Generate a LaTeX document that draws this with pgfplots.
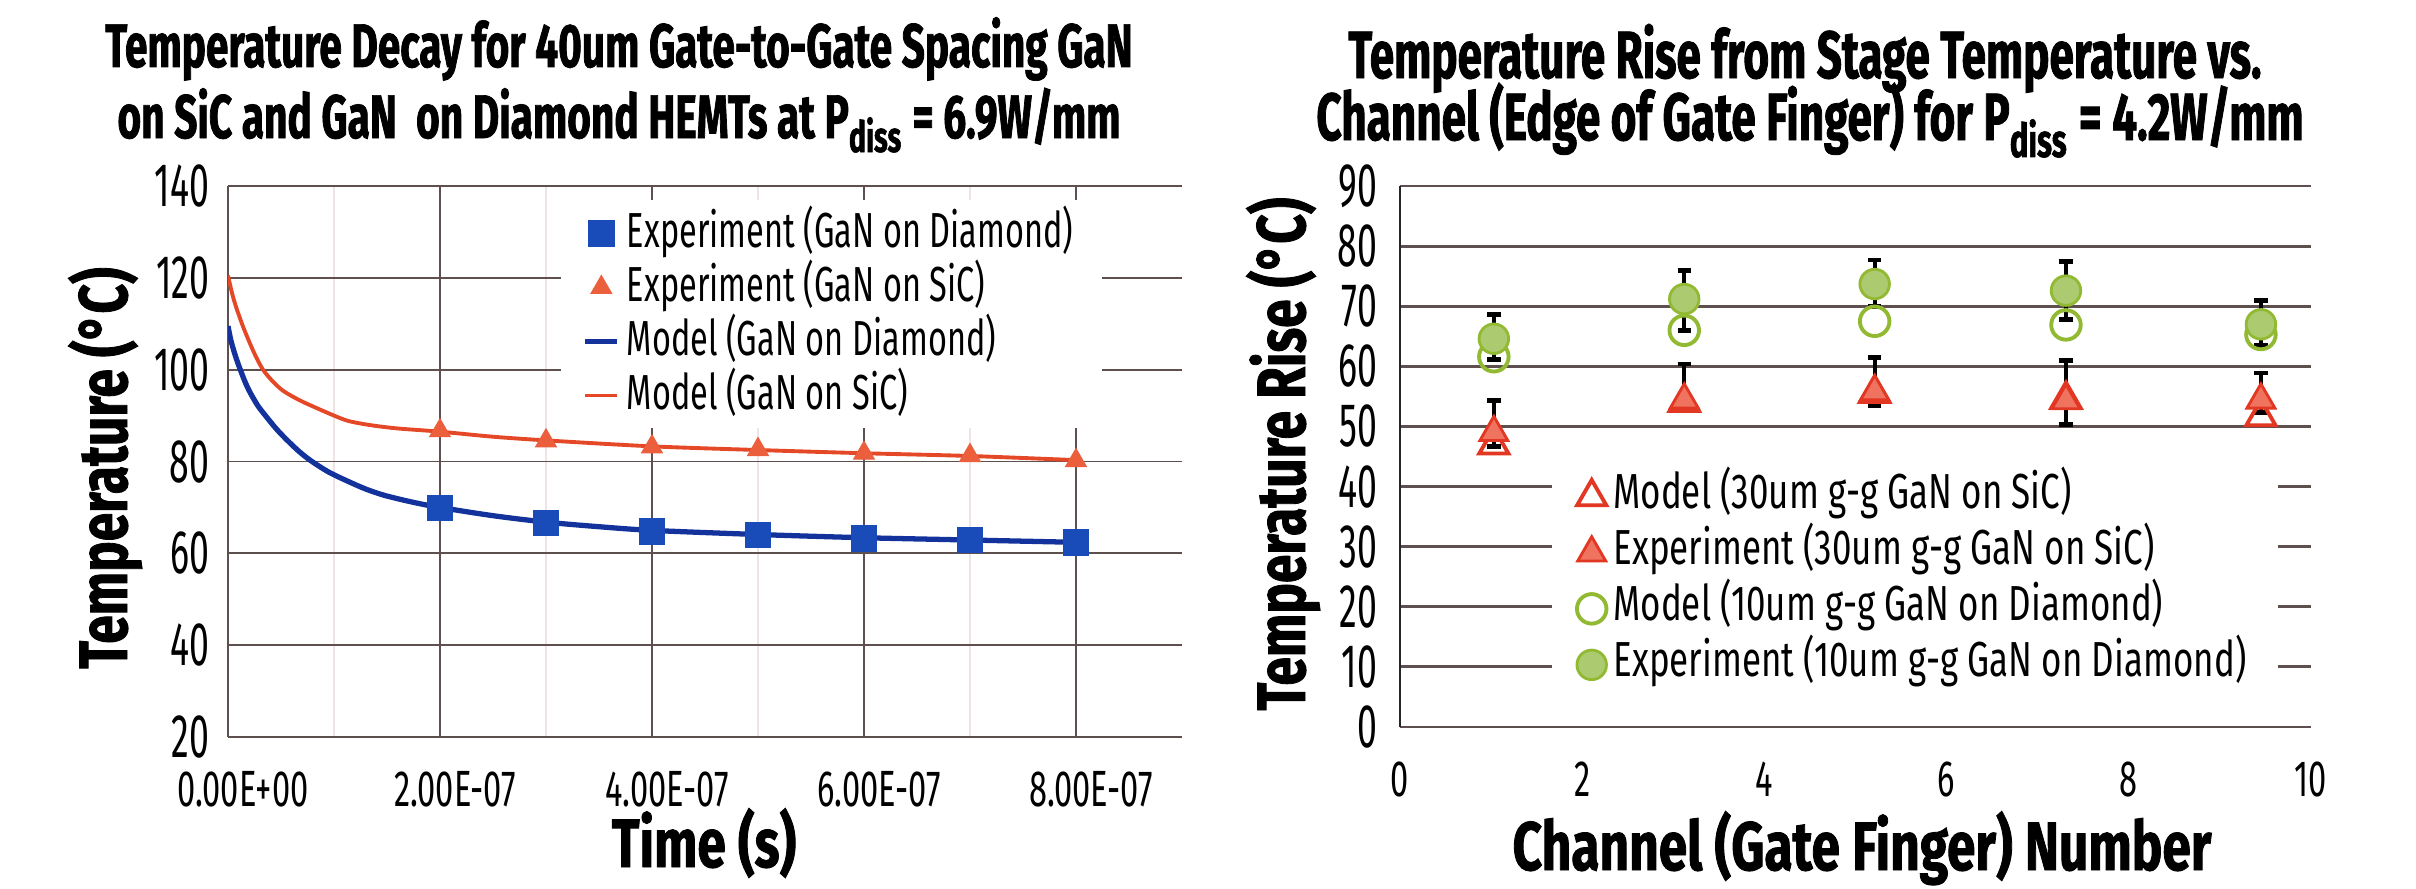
\documentclass[border=0pt]{standalone}
\usepackage{fontspec}
\setmainfont{Fira Sans}[FakeStretch=0.68]
\newfontfamily\ytickf{Fira Sans}[FakeStretch=0.58]
\newfontfamily\xtickf{Fira Sans}[FakeStretch=0.64]
\newfontfamily\legLf{Fira Sans}[FakeStretch=0.66]
\newfontfamily\legRf{Fira Sans}[FakeStretch=0.71]
\newfontfamily\labf{Fira Sans}[FakeStretch=0.75, BoldFeatures={FakeBold=1.2}]
\newfontfamily\titf{Fira Sans}[FakeStretch=0.66, BoldFeatures={FakeBold=1.2}]
\usepackage{pgfplots}
\pgfplotsset{compat=1.18}
\definecolor{gridc}{RGB}{95,80,80}
\definecolor{gridlight}{RGB}{238,228,228}
\definecolor{bluesq}{RGB}{25,75,185}
\definecolor{blueline}{RGB}{20,50,155}
\definecolor{redtri}{RGB}{235,95,60}
\definecolor{redline}{RGB}{228,72,38}
\definecolor{sicred}{RGB}{225,55,35}
\definecolor{sicfill}{RGB}{240,115,95}
\definecolor{dgreen}{RGB}{145,185,50}
\definecolor{lgreen}{RGB}{172,202,112}
\newcommand{\ytickfont}{\ytickf\fontsize{17.5}{19}\selectfont}
\newcommand{\xtickfont}{\xtickf\fontsize{14.5}{16}\selectfont}
\newcommand{\legLfont}{\legLf\fontsize{14}{16}\selectfont}
\newcommand{\legRfont}{\legRf\fontsize{14}{16}\selectfont}
\newcommand{\labfont}{\labf\bfseries\fontsize{19.5}{22}\selectfont}
\newcommand{\titLfont}{\titf\bfseries\fontsize{17.5}{20}\selectfont}
\newcommand{\titRfont}{\titf\bfseries\fontsize{19}{22}\selectfont}
\begin{document}
\begin{tikzpicture}
\useasboundingbox (0,0) rectangle (24.16cm,8.88cm);
% ---------- titles ----------
\node[anchor=base, font=\titLfont, inner sep=0pt] at (6.19cm,8.21cm) {Temperature Decay for 40um Gate-to-Gate Spacing GaN};
\node[anchor=base, font=\titLfont, inner sep=0pt] at (6.19cm,7.50cm) {on SiC and GaN\ \ on Diamond HEMTs at P\textsubscript{diss} = 6.9W/mm};
\node[anchor=base, font=\titRfont, inner sep=0pt] at (18.05cm,8.10cm) {Temperature Rise from Stage Temperature vs.};
\node[anchor=base, font=\titRfont, inner sep=0pt] at (18.10cm,7.48cm) {Channel (Edge of Gate Finger) for P\textsubscript{diss} = 4.2W/mm};
% ---------- axis labels ----------
\node[anchor=base, rotate=90, font=\labfont, inner sep=0pt] at (1.27cm,4.20cm) {Temperature (°C)};
\node[anchor=base, font=\labfont, inner sep=0pt] at (7.04cm,0.21cm) {Time (s)};
\node[anchor=base, rotate=90, font=\labfont, inner sep=0pt] at (13.05cm,4.34cm) {Temperature Rise (°C)};
\node[anchor=base, font=\labfont, inner sep=0pt] at (18.62cm,0.18cm) {Channel (Gate Finger) Number};

% ---------- left chart ----------
\begin{axis}[
  at={(2.28cm,1.51cm)}, anchor=south west,
  scale only axis, width=9.54cm, height=5.51cm,
  xmin=0, xmax=9e-7, ymin=20, ymax=140,
  xtick={0,2e-7,4e-7,6e-7,8e-7},
  minor xtick={1e-7,3e-7,5e-7,7e-7},
  xticklabels={0.00E+00,2.00E-07,4.00E-07,6.00E-07,8.00E-07},
  scaled x ticks=false,
  ytick={20,40,60,80,100,120,140},
  /pgf/number format/assume math mode=true,
  tick style={draw=none},
  xmajorgrids, xminorgrids, ymajorgrids,
  major grid style={draw=gridc, line width=0.55pt},
  minor grid style={draw=gridlight, line width=0.5pt},
  axis line style={draw=none},
  yticklabel style={font=\ytickfont, inner sep=0pt, xshift=-1.8mm},
  xticklabel style={font=\xtickfont, inner sep=0pt, yshift=-3.4mm, xshift=1.5mm},
  legend style={draw=none, fill=white, at={(0.348,0.975)}, anchor=north west,
    font=\legLfont, inner xsep=2.2mm, inner ysep=0.6mm, row sep=0pt,
    nodes={inner ysep=0pt, inner xsep=2pt, text height=4.1mm, text depth=1.3mm}},
  legend cell align=left,
  legend image code/.code={\draw[mark repeat=2,mark phase=2,#1] plot coordinates {(0cm,0cm) (0.16cm,0cm) (0.32cm,0cm)};},
]
% model lines first (under the markers)
\addplot[blueline, line width=1.5pt, smooth, forget plot] coordinates {
 (0,109.5) (0.25e-8,106.6) (0.5e-8,104.5) (0.8e-8,102.3) (1.16e-8,100.0) (1.6e-8,97.4) (2e-8,95.4)
 (2.8e-8,92.2) (3.6e-8,89.8) (4.6e-8,87.0) (5.6e-8,84.6) (6.7e-8,82.2) (7.8e-8,80.2)
 (9.5e-8,77.7) (1.14e-7,75.6) (1.3e-7,74.0) (1.48e-7,72.6) (1.75e-7,71.1) (2e-7,70.0)
 (2.5e-7,68.2) (3e-7,66.8) (3.5e-7,65.8) (4e-7,65.0) (5e-7,64.1) (6e-7,63.4) (7e-7,62.9) (8e-7,62.4)};
\addplot[redline, line width=1.1pt, smooth, forget plot] coordinates {
 (0,120.5) (0.4e-8,116.5) (0.8e-8,113.4) (1.4e-8,109.5) (2e-8,106.1) (2.6e-8,103.0) (3.3e-8,100.0)
 (4.2e-8,97.5) (5.2e-8,95.4) (6.7e-8,93.4) (8.3e-8,91.7) (1e-7,90.0) (1.14e-7,88.8)
 (1.35e-7,87.9) (1.6e-7,87.2) (2e-7,86.5) (2.5e-7,85.4) (3e-7,84.6) (4e-7,83.3)
 (5e-7,82.5) (6e-7,81.8) (7e-7,81.2) (8e-7,80.3)};
\addplot[only marks, mark=square*, mark size=3.6pt, color=bluesq] coordinates {
 (2e-7,69.9) (3e-7,66.6) (4e-7,64.8) (5e-7,64.0) (6e-7,63.3) (7e-7,62.9) (8e-7,62.4)};
\addlegendentry{Experiment (GaN on Diamond)}
\addplot[only marks, mark=triangle*, mark size=3.3pt, color=redtri] coordinates {
 (2e-7,86.7) (3e-7,84.5) (4e-7,83.2) (5e-7,82.6) (6e-7,81.8) (7e-7,81.3) (8e-7,80.2)};
\addlegendentry{Experiment (GaN on SiC)}
\addlegendimage{blueline, line width=1.5pt}
\addlegendentry{Model (GaN on Diamond)}
\addlegendimage{redline, line width=1.1pt}
\addlegendentry{Model (GaN on SiC)}
\end{axis}

% ---------- right chart ----------
\begin{axis}[
  at={(14.00cm,1.61cm)}, anchor=south west,
  scale only axis, width=9.11cm, height=5.41cm,
  xmin=0, xmax=10, ymin=0, ymax=90,
  xtick={0,2,4,6,8,10},
  ytick={0,10,...,90},
  extra x ticks={0}, extra x tick labels={},
  extra x tick style={xmajorgrids=true, major grid style={draw=black!85, line width=0.8pt}},
  /pgf/number format/assume math mode=true,
  tick style={draw=none},
  ymajorgrids,
  major grid style={draw=gridc, line width=0.8pt},
  axis line style={draw=none},
  yticklabel style={font=\ytickfont, inner sep=0pt, xshift=-2.2mm},
  xticklabel style={font=\xtickfont, inner sep=0pt, yshift=-3.4mm},
  legend style={draw=none, fill=white, at={(0.166,0.497)}, anchor=north west,
    font=\legRfont, inner xsep=2.5mm, inner ysep=1.0mm, row sep=0pt,
    nodes={inner ysep=0pt, inner xsep=2pt, text height=4.0mm, text depth=1.6mm}},
  legend cell align=left,
  legend image code/.code={\draw[mark repeat=2,mark phase=2,#1] plot coordinates {(0cm,0cm) (0.24cm,0cm) (0.48cm,0cm)};},
]
\addplot[only marks, mark=triangle, mark size=4.8pt, draw=sicred, mark options={fill=white, line width=1.1pt}] coordinates {
 (1.03,46.9) (3.12,54.0) (5.21,55.5) (7.31,54.5) (9.45,51.6)};
\addlegendentry{Model (30um g-g GaN on SiC)}
\addplot[only marks, mark=triangle*, mark size=4.6pt, draw=sicred, fill=sicfill, mark options={line width=0.8pt},
  error bars/.cd, y dir=both, y explicit,
  error bar style={black, line width=1.1pt},
  error mark options={black, mark size=1.9pt, line width=1.4pt, rotate=90}] coordinates {
 (1.03,49.0) += (0,5.3) -= (0,2.4)
 (3.12,54.4) += (0,6.0) -= (0,1.8)
 (5.21,55.8) += (0,5.7) -= (0,2.3)
 (7.31,54.3) += (0,6.7) -= (0,4.0)
 (9.45,54.4) += (0,4.5) -= (0,2.0)};
\addlegendentry{Experiment (30um g-g GaN on SiC)}
\addplot[only marks, mark=o, mark size=4.2pt, draw=dgreen, mark options={fill=white, line width=1.1pt}] coordinates {
 (1.03,61.6) (3.12,66.0) (5.21,67.5) (7.31,66.9) (9.45,65.3)};
\addlegendentry{Model (10um g-g GaN on Diamond)}
\addplot[only marks, mark=*, mark size=4.2pt, draw=dgreen, fill=lgreen, mark options={line width=0.8pt},
  error bars/.cd, y dir=both, y explicit,
  error bar style={black, line width=1.1pt},
  error mark options={black, mark size=1.9pt, line width=1.4pt, rotate=90}] coordinates {
 (1.03,64.6) += (0,4.1) -= (0,3.5)
 (3.12,71.2) += (0,4.8) -= (0,5.2)
 (5.21,73.7) += (0,4.0) -= (0,3.7)
 (7.31,72.6) += (0,4.8) -= (0,4.8)
 (9.45,67.0) += (0,4.0) -= (0,3.5)};
\addlegendentry{Experiment (10um g-g GaN on Diamond)}
\end{axis}
\end{tikzpicture}
\end{document}
